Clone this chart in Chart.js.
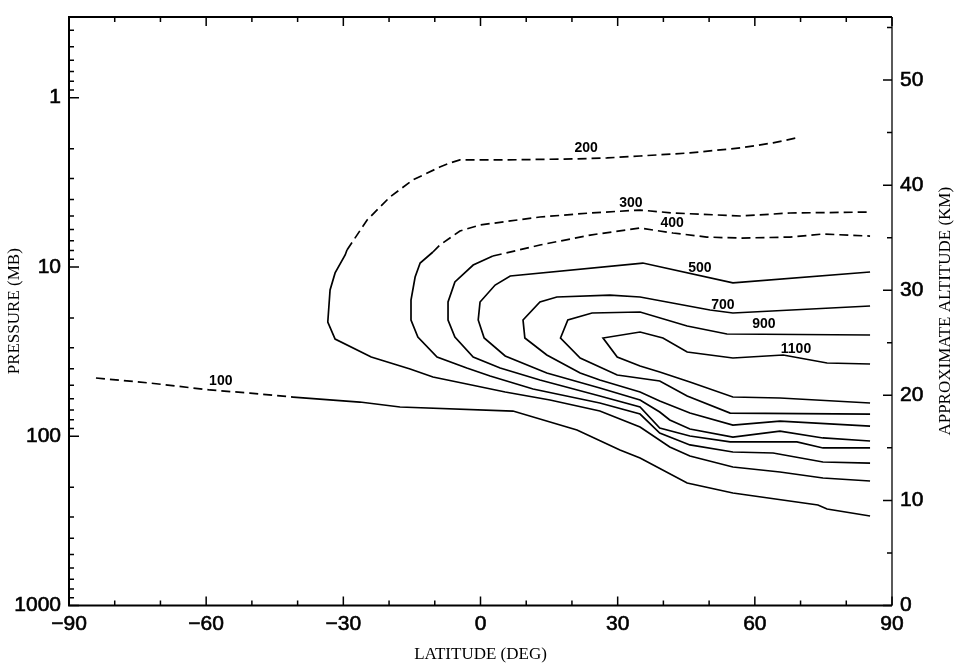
<!DOCTYPE html>
<html>
<head>
<meta charset="utf-8">
<script src="https://cdn.jsdelivr.net/npm/chart.js@4.4.1/dist/chart.umd.min.js"></script>
<style>
  html, body { margin: 0; padding: 0; background: #fff; }
  #wrap { width: 959px; height: 670px; }
</style>
</head>
<body>
<div id="wrap"><canvas id="contourChart" width="959" height="670"></canvas></div>
<script>
// Axis ranges and tick values
const latTicks = [-90, -60, -30, 0, 30, 60, 90];
const latMinorTicks = [-80, -70, -50, -40, -20, -10, 10, 20, 40, 50, 70, 80];
const pressureTicks = [1, 10, 100, 1000];
const pressureMinorTicks = [0.4, 0.5, 0.6, 0.7, 0.8, 0.9, 2, 3, 4, 5, 6, 7, 8, 9,
  20, 30, 40, 50, 60, 70, 80, 90, 200, 300, 400, 500, 600, 700, 800, 900];
const altitudeTicks = [0, 10, 20, 30, 40, 50];
const altitudeMinorTicks = [5, 15, 25, 35, 45, 55];
const pressureTop = 0.3337;
const altitudeTop = 56;

// Contours, points are [latitude, pressure (mb)]
const c100Dashed = [[-84.1, 45.3], [-72.3, 48.5], [-59.2, 53.3], [-50.4, 55.6], [-41.0, 58.7]];
const c100Solid = [[-41.0, 58.7], [-26.4, 62.8], [-17.6, 67.2], [7.1, 71.0], [21.1, 91.9], [30.5, 120.6],
  [34.9, 134.5], [45.2, 189.0], [55.2, 216.5], [73.8, 254.9], [75.8, 269.2], [85.2, 296.0]];

const c200Dashed = [[-29.2, 7.94], [-24.8, 5.28], [-19.8, 3.86], [-14.8, 3.06], [-8.9, 2.57], [-6.7, 2.43],
  [-4.5, 2.33], [5.8, 2.33], [20.2, 2.30], [27.7, 2.27], [34.9, 2.21], [45.8, 2.12], [56.8, 1.98],
  [64.0, 1.85], [69.9, 1.71]];
const c200Solid = [[-29.2, 7.94], [-29.6, 8.50], [-31.8, 10.85], [-32.9, 13.68], [-33.4, 21.15], [-31.8, 26.65],
  [-23.9, 34.04], [-15.4, 40.08], [-10.4, 44.69], [-3.0, 49.15], [5.4, 54.80], [15.2, 61.10], [26.1, 70.95],
  [34.9, 88.24], [41.4, 115.8], [45.8, 130.9], [55.2, 152.0], [65.5, 162.7], [74.9, 176.5], [85.2, 183.9]];

const c300Dashed = [[-10.4, 8.16], [-8.9, 7.42], [-4.5, 6.13], [-0.1, 5.65], [13.0, 5.07], [24.0, 4.80],
  [34.9, 4.61], [42.1, 4.80], [56.8, 5.00], [67.7, 4.80], [85.2, 4.74]];
const c300Solid = [[-10.4, 8.16], [-13.2, 9.48], [-14.3, 11.47], [-15.2, 15.67], [-15.2, 20.58], [-13.7, 25.93],
  [-9.5, 34.04], [-3.0, 39.54], [2.1, 44.08], [11.5, 52.6], [26.1, 63.65], [34.9, 73.94], [39.2, 95.74],
  [45.8, 112.6], [55.2, 123.9], [64.0, 125.6], [74.9, 142.0], [85.2, 144.0]];

const c400Dashed = [[2.7, 8.62], [13.0, 7.42], [24.0, 6.48], [34.9, 5.89], [42.1, 6.30], [49.5, 6.66],
  [56.8, 6.75], [67.7, 6.66], [74.9, 6.39], [85.2, 6.57]];
const c400Solid = [[2.7, 8.62], [-1.6, 9.74], [-5.6, 12.27], [-7.1, 16.11], [-7.1, 20.58], [-5.6, 25.93],
  [-1.6, 34.04], [4.3, 39.54], [13.0, 46.54], [26.1, 57.87], [34.9, 67.20], [39.2, 89.44], [45.8, 99.72],
  [54.6, 108.1], [69.2, 108.1], [74.9, 117.3], [85.2, 117.3]];

const c500 = [[85.2, 10.71], [55.2, 12.43], [35.5, 9.48], [6.5, 11.31], [3.2, 12.79], [-0.1, 16.11],
  [-0.5, 20.58], [0.8, 26.29], [5.4, 33.57], [14.5, 42.31], [26.1, 51.89], [34.9, 61.10], [39.2, 71.94],
  [41.4, 80.23], [45.8, 90.67], [55.2, 101.1], [65.5, 93.19], [74.9, 102.4], [85.2, 106.7]];

const c700 = [[85.2, 17.01], [55.2, 18.71], [50.2, 17.96], [34.9, 15.05], [28.3, 14.65], [16.7, 15.05],
  [13.0, 16.11], [9.3, 20.58], [9.7, 26.29], [14.5, 33.13], [21.8, 42.31], [26.1, 46.54], [34.9, 54.80],
  [39.2, 61.94], [45.8, 72.94], [55.2, 85.87], [65.5, 81.33], [85.2, 87.05]];

const c900 = [[85.2, 25.23], [53.9, 24.89], [45.2, 22.33], [34.9, 18.46], [24.4, 18.71], [19.1, 20.58],
  [17.5, 26.29], [21.8, 34.51], [29.9, 43.49], [39.2, 47.18], [45.2, 57.87], [54.6, 72.94], [85.2, 73.94]];

const c1100 = [[85.2, 37.43], [75.8, 36.93], [66.2, 33.13], [55.2, 34.51], [45.2, 31.80], [39.9, 26.29],
  [34.9, 24.23], [26.8, 26.29], [29.9, 34.04], [34.9, 38.47], [39.2, 41.74], [45.8, 47.83], [55.2, 58.66],
  [65.5, 59.47], [85.2, 63.65]];

// Contour labels: text, latitude, pressure
const labelText = ['100', '200', '300', '400', '500', '700', '900', '1100'];
const labelLat = [-56.8, 23.1, 32.9, 41.9, 48.0, 53.0, 62.0, 69.0];
const labelP = [47.2, 1.98, 4.19, 5.50, 10.14, 16.78, 21.73, 30.53];

function contour(points, dashed) {
  return {
    data: points.map(([lat, p]) => ({ x: lat, y: p })),
    showLine: true,
    borderColor: '#000',
    borderWidth: 1.7,
    borderDash: dashed ? [9, 5] : [],
    pointRadius: 0,
    tension: 0,
    yAxisID: 'y'
  };
}

const datasets = [
  contour(c100Dashed, true), contour(c100Solid, false),
  contour(c200Dashed, true), contour(c200Solid, false),
  contour(c300Dashed, true), contour(c300Solid, false),
  contour(c400Dashed, true), contour(c400Solid, false),
  contour(c500, false), contour(c700, false), contour(c900, false), contour(c1100, false)
];

// frame, inward tick marks, right-hand title
const axisFrame = {
  id: 'axisFrame',
  afterDraw(chart) {
    const { ctx, chartArea: a } = chart;
    const xs = chart.scales.x, ys = chart.scales.y, alt = chart.scales.alt;
    ctx.save();
    ctx.strokeStyle = '#000';
    ctx.lineWidth = 2;
    ctx.beginPath();
    ctx.moveTo(a.right, a.top); ctx.lineTo(a.left, a.top);
    ctx.lineTo(a.left, a.bottom); ctx.lineTo(a.right, a.bottom);
    ctx.stroke();
    ctx.lineWidth = 1.3;
    ctx.beginPath();
    ctx.moveTo(a.right, a.top); ctx.lineTo(a.right, a.bottom);
    ctx.stroke();

    ctx.lineWidth = 1.5;
    ctx.beginPath();
    latTicks.forEach(v => {
      const px = xs.getPixelForValue(v);
      ctx.moveTo(px, a.bottom); ctx.lineTo(px, a.bottom - 9);
      ctx.moveTo(px, a.top); ctx.lineTo(px, a.top + 9);
    });
    latMinorTicks.forEach(v => {
      const px = xs.getPixelForValue(v);
      ctx.moveTo(px, a.bottom); ctx.lineTo(px, a.bottom - 5);
      ctx.moveTo(px, a.top); ctx.lineTo(px, a.top + 5);
    });
    pressureTicks.forEach(v => {
      const py = ys.getPixelForValue(v);
      ctx.moveTo(a.left, py); ctx.lineTo(a.left + 10, py);
    });
    pressureMinorTicks.forEach(v => {
      const py = ys.getPixelForValue(v);
      ctx.moveTo(a.left, py); ctx.lineTo(a.left + 5, py);
    });
    altitudeTicks.forEach(v => {
      const py = alt.getPixelForValue(v);
      ctx.moveTo(a.right, py); ctx.lineTo(a.right - 9, py);
    });
    altitudeMinorTicks.forEach(v => {
      const py = alt.getPixelForValue(v);
      ctx.moveTo(a.right, py); ctx.lineTo(a.right - 5, py);
    });
    ctx.stroke();

    // right axis title reads bottom to top
    ctx.fillStyle = '#000';
    ctx.font = '17px "Liberation Serif", "Times New Roman", serif';
    ctx.textAlign = 'center';
    ctx.textBaseline = 'middle';
    ctx.translate(946, (a.top + a.bottom) / 2);
    ctx.rotate(-Math.PI / 2);
    ctx.fillText('APPROXIMATE ALTITUDE (KM)', 0, 0);
    ctx.restore();
  }
};

const contourLabels = {
  id: 'contourLabels',
  afterDatasetsDraw(chart) {
    const { ctx } = chart;
    const xs = chart.scales.x, ys = chart.scales.y;
    ctx.save();
    ctx.fillStyle = '#000';
    ctx.font = 'bold 14px "Liberation Sans", Arial, sans-serif';
    ctx.textAlign = 'center';
    ctx.textBaseline = 'middle';
    labelText.forEach((t, i) => {
      ctx.fillText(t, xs.getPixelForValue(labelLat[i]), ys.getPixelForValue(labelP[i]));
    });
    ctx.restore();
  }
};

const tickFont = { family: '"Liberation Sans", Arial, sans-serif', size: 21 };
const titleFont = { family: '"Liberation Serif", "Times New Roman", serif', size: 17 };

const ctx = document.getElementById('contourChart').getContext('2d');
const contourChart = new Chart(ctx, {
  type: 'scatter',
  data: { datasets: datasets },
  options: {
    responsive: false,
    animation: false,
    events: [],
    layout: { padding: { top: 17, left: 0, right: 0, bottom: 2 } },
    plugins: { legend: { display: false }, tooltip: { enabled: false } },
    scales: {
      x: {
        type: 'linear',
        position: 'bottom',
        bounds: 'data',
        min: -90,
        max: 90,
        grid: { display: false, drawTicks: false },
        border: { display: false },
        afterBuildTicks: s => { s.ticks = latTicks.map(v => ({ value: v })); },
        ticks: {
          color: '#000',
          font: tickFont,
          padding: 6,
          maxRotation: 0,
          textStrokeColor: '#000',
          textStrokeWidth: 0.6,
          callback: v => (v < 0 ? '\u2212' + Math.abs(v) : String(v))
        },
        title: { display: true, text: 'LATITUDE (DEG)', color: '#000', font: titleFont, padding: { top: 0, bottom: 3 } },
        afterFit: s => { s.height = 670 - 2 - 605.5; }
      },
      y: {
        type: 'logarithmic',
        position: 'left',
        bounds: 'data',
        min: pressureTop,
        max: 1000,
        reverse: true,
        grid: { display: false, drawTicks: false },
        border: { display: false },
        afterBuildTicks: s => { s.ticks = pressureTicks.map(v => ({ value: v })); },
        ticks: { color: '#000', font: tickFont, padding: 8, textStrokeColor: '#000', textStrokeWidth: 0.6, callback: v => String(v) },
        title: { display: true, text: 'PRESSURE (MB)', color: '#000', font: titleFont, padding: { top: 4, bottom: 0 } },
        afterFit: s => { s.width = 69; s.paddingTop = 0; s.paddingBottom = 0; }
      },
      alt: {
        type: 'linear',
        position: 'right',
        bounds: 'data',
        min: 0,
        max: altitudeTop,
        grid: { display: false, drawTicks: false },
        border: { display: false },
        afterBuildTicks: s => { s.ticks = altitudeTicks.map(v => ({ value: v })); },
        ticks: { color: '#000', font: tickFont, padding: 8, textStrokeColor: '#000', textStrokeWidth: 0.6, callback: v => String(v) },
        afterFit: s => { s.width = 959 - 892; s.paddingTop = 0; s.paddingBottom = 0; }
      }
    }
  },
  plugins: [axisFrame, contourLabels]
});
</script>
</body>
</html>
